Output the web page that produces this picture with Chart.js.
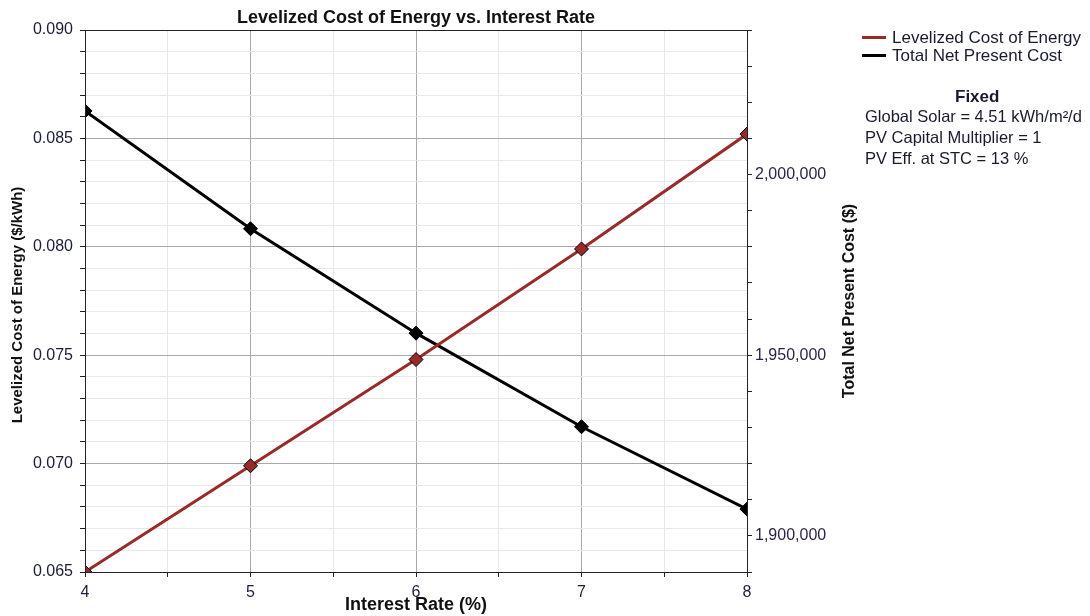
<!DOCTYPE html>
<html>
<head>
<meta charset="utf-8">
<script src="https://cdn.jsdelivr.net/npm/chart.js@4"></script>
<style>
  html, body { margin: 0; padding: 0; background: #fff; }
  #wrap { position: relative; width: 1090px; height: 616px; font-family: "Liberation Sans", Arial, sans-serif; }
  #chart { position: absolute; left: 0; top: 0; }
  .side { position: absolute; color: #1a1a2e; font-size: 16.5px; white-space: nowrap; }
  .leg { position: absolute; left: 862px; font-size: 17px; color: #1a1a2e; white-space: nowrap; }
  .leg i { display: inline-block; width: 24px; height: 3px; vertical-align: middle; margin-right: 6px; position: relative; top: -1px; }
</style>
</head>
<body>
<div id="wrap">
  <canvas id="chart" width="1090" height="616"></canvas>
  <div class="leg" style="top:28px"><i style="background:#982a2a"></i>Levelized Cost of Energy</div>
  <div class="leg" style="top:46px"><i style="background:#000"></i>Total Net Present Cost</div>
  <div class="side" style="left:955px; top:87px; font-weight:bold; font-size:17px">Fixed</div>
  <div class="side" style="left:865px; top:107px">Global Solar = 4.51 kWh/m²/d</div>
  <div class="side" style="left:865px; top:128px">PV Capital Multiplier = 1</div>
  <div class="side" style="left:865px; top:149px">PV Eff. at STC = 13 %</div>
</div>
<script>
// data
const interestRates = [4, 5, 6, 7, 8];
const lcoe = [0.0650, 0.0699, 0.0748, 0.0799, 0.0852];
const npc = [2017600, 1985000, 1956100, 1930200, 1907400];

const seriesNames = ['Levelized Cost of Energy', 'Total Net Present Cost'];
const chartTitle = 'Levelized Cost of Energy vs. Interest Rate';
const xTitle = 'Interest Rate (%)';
const yLeftTitle = 'Levelized Cost of Energy ($/kWh)';
const yRightTitle = 'Total Net Present Cost ($)';

const tickFont = { family: 'Liberation Sans', size: 16 };
const tickColor = '#1c1c3a';
const majorGrid = '#a8a8a8';
const minorGrid = '#e8e8e8';

// titles and frame drawn around the chart area
const decorations = {
  id: 'decorations',
  afterDraw(chart) {
    const { ctx, chartArea: a } = chart;
    ctx.save();
    ctx.strokeStyle = '#222';
    ctx.lineWidth = 1;
    ctx.strokeRect(a.left + 0.5, a.top + 0.5, a.right - a.left, a.bottom - a.top);
    ctx.fillStyle = '#111';
    ctx.textAlign = 'center';
    ctx.textBaseline = 'middle';
    ctx.font = 'bold 18px "Liberation Sans", Arial, sans-serif';
    ctx.fillText(chartTitle, (a.left + a.right) / 2, 18);
    ctx.fillText(xTitle, (a.left + a.right) / 2, 605);
    ctx.font = 'bold 15px "Liberation Sans", Arial, sans-serif';
    ctx.translate(18, (a.top + a.bottom) / 2 + 4);
    ctx.rotate(-Math.PI / 2);
    ctx.fillText(yLeftTitle, 0, 0);
    ctx.restore();
    ctx.save();
    ctx.fillStyle = '#111';
    ctx.textAlign = 'center';
    ctx.textBaseline = 'middle';
    ctx.font = 'bold 16px "Liberation Sans", Arial, sans-serif';
    ctx.translate(850, (a.top + a.bottom) / 2);
    ctx.rotate(-Math.PI / 2);
    ctx.fillText(yRightTitle, 0, 0);
    ctx.restore();
  }
};

const ctx = document.getElementById('chart').getContext('2d');
new Chart(ctx, {
  type: 'line',
  data: {
    datasets: [
      {
        label: seriesNames[0],
        data: interestRates.map((x, i) => ({ x: x, y: lcoe[i] })),
        yAxisID: 'y',
        borderColor: '#982a2a',
        backgroundColor: '#982a2a',
        borderWidth: 3,
        pointStyle: 'rectRot',
        pointRadius: 7,
        pointBackgroundColor: '#982a2a',
        pointBorderColor: '#000',
        pointBorderWidth: 1,
        tension: 0
      },
      {
        label: seriesNames[1],
        data: interestRates.map((x, i) => ({ x: x, y: npc[i] })),
        yAxisID: 'y1',
        borderColor: '#000',
        backgroundColor: '#000',
        borderWidth: 3,
        pointStyle: 'rectRot',
        pointRadius: 7,
        pointBackgroundColor: '#000',
        pointBorderColor: '#000',
        pointBorderWidth: 1,
        tension: 0
      }
    ]
  },
  options: {
    responsive: false,
    animation: false,
    layout: { padding: { top: 30, right: 243, left: 0, bottom: 0 } },
    plugins: {
      legend: { display: false },
      tooltip: { enabled: false }
    },
    scales: {
      x: {
        type: 'linear',
        min: 4,
        max: 8,
        afterFit: s => { s.height = 44; },
        ticks: {
          stepSize: 0.5,
          autoSkip: false,
          maxRotation: 0,
          padding: 6,
          font: tickFont,
          color: tickColor,
          callback: v => Number.isInteger(v) ? String(v) : ''
        },
        grid: {
          color: c => Number.isInteger(c.tick.value) ? majorGrid : minorGrid,
          tickColor: '#222',
          tickLength: 5
        },
        border: { color: '#222', width: 1 }
      },
      y: {
        position: 'left',
        min: 0.065,
        max: 0.090,
        afterFit: s => { s.width = 85; },
        ticks: {
          stepSize: 0.001,
          autoSkip: false,
          padding: 7,
          font: tickFont,
          color: tickColor,
          callback: v => Math.round(v * 1000) % 5 === 0 ? v.toFixed(3) : ''
        },
        grid: {
          color: c => Math.round(c.tick.value * 1000) % 5 === 0 ? majorGrid : minorGrid,
          tickColor: '#222',
          tickLength: 5
        },
        border: { color: '#222', width: 1 }
      },
      y1: {
        position: 'right',
        min: 1890000,
        max: 2040000,
        afterFit: s => { s.width = 100; },
        ticks: {
          stepSize: 10000,
          autoSkip: false,
          padding: 3,
          font: tickFont,
          color: '#2a1f45',
          callback: v => v % 50000 === 0 ? v.toLocaleString('en-US') : ''
        },
        grid: {
          drawOnChartArea: false,
          tickColor: '#222',
          tickLength: 5
        },
        border: { color: '#222', width: 1 }
      }
    }
  },
  plugins: [decorations]
});
</script>
</body>
</html>
